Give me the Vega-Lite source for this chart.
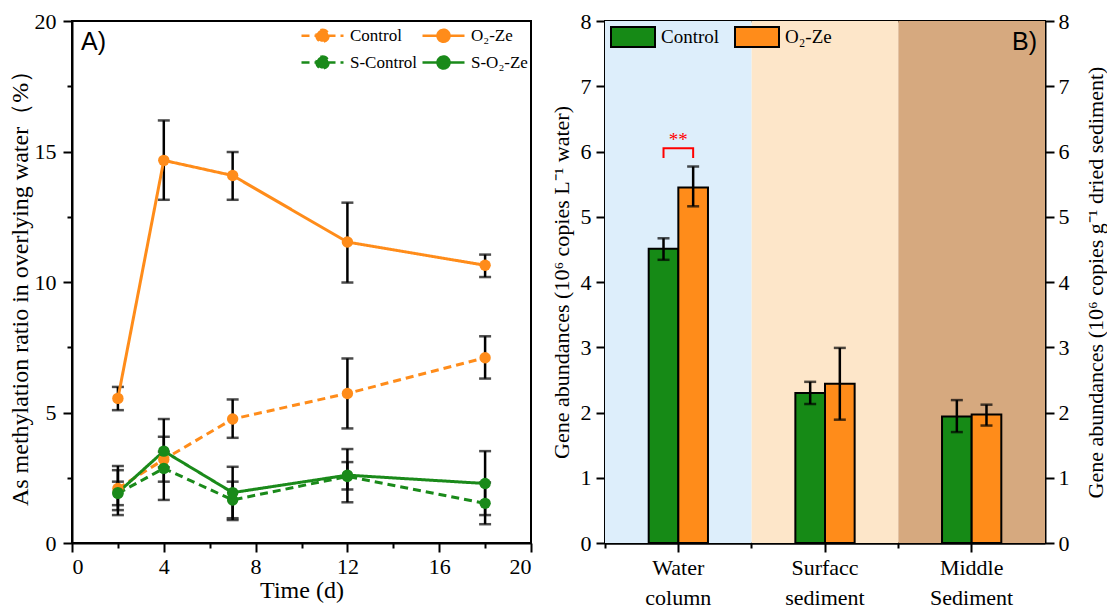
{
  "$schema": "https://vega.github.io/schema/vega-lite/v6.json",
  "background": "white",
  "padding": {"left": 7, "top": 9, "right": 0, "bottom": 0},
  "spacing": 16,
  "config": {
    "view": {"stroke": "black", "strokeWidth": 2},
    "font": "Liberation Serif",
    "axis": {"labelFont": "Liberation Serif", "labelFontSize": 22, "labelColor": "black", "titleFont": "Liberation Serif", "titleFontSize": 24, "titleFontWeight": "normal", "titleColor": "black", "domainColor": "black", "domainWidth": 2, "tickColor": "black", "tickWidth": 2, "grid": false, "zindex": 1},
    "legend": {"labelFont": "Liberation Serif", "labelFontSize": 17, "labelColor": "black", "padding": 0},
    "title": {"font": "Liberation Sans", "fontSize": 25, "fontWeight": "normal", "color": "black"}
  },
  "resolve": {"scale": {"color": "independent", "strokeDash": "independent", "fill": "independent"}},
  "hconcat": [
    {
      "width": 459,
      "height": 522,
      "title": {"text": "A)", "anchor": "start", "frame": "group", "offset": -45, "dx": 9},
      "data": {"values": [
        {"t": 2, "s": "Control", "v": 2.09, "lo": 1.26, "hi": 2.95},
        {"t": 4, "s": "Control", "v": 3.2, "lo": 2.9, "hi": 3.5},
        {"t": 7, "s": "Control", "v": 4.75, "lo": 4.03, "hi": 5.5},
        {"t": 12, "s": "Control", "v": 5.73, "lo": 4.39, "hi": 7.07},
        {"t": 18, "s": "Control", "v": 7.1, "lo": 6.3, "hi": 7.92},
        {"t": 2, "s": "O₂-Ze", "v": 5.54, "lo": 5.09, "hi": 5.98},
        {"t": 4, "s": "O₂-Ze", "v": 14.66, "lo": 13.15, "hi": 16.19},
        {"t": 7, "s": "O₂-Ze", "v": 14.08, "lo": 13.15, "hi": 14.98},
        {"t": 12, "s": "O₂-Ze", "v": 11.53, "lo": 9.98, "hi": 13.04},
        {"t": 18, "s": "O₂-Ze", "v": 10.64, "lo": 10.19, "hi": 11.05},
        {"t": 2, "s": "S-Control", "v": 1.9, "lo": 1.45, "hi": 2.35},
        {"t": 4, "s": "S-Control", "v": 2.86, "lo": 1.65, "hi": 4.07},
        {"t": 7, "s": "S-Control", "v": 1.65, "lo": 0.95, "hi": 2.35},
        {"t": 12, "s": "S-Control", "v": 2.55, "lo": 2.05, "hi": 3.1},
        {"t": 18, "s": "S-Control", "v": 1.52, "lo": 0.72, "hi": 2.32},
        {"t": 2, "s": "S-O₂-Ze", "v": 1.93, "lo": 1.07, "hi": 2.79},
        {"t": 4, "s": "S-O₂-Ze", "v": 3.52, "lo": 2.35, "hi": 4.75},
        {"t": 7, "s": "S-O₂-Ze", "v": 1.93, "lo": 0.88, "hi": 2.92},
        {"t": 12, "s": "S-O₂-Ze", "v": 2.6, "lo": 1.56, "hi": 3.6},
        {"t": 18, "s": "S-O₂-Ze", "v": 2.28, "lo": 1.07, "hi": 3.52}
      ]},
      "layer": [
        {
          "mark": {"type": "rule", "color": "black", "strokeWidth": 2.5},
          "encoding": {
            "x": {"field": "t", "type": "quantitative", "scale": {"domain": [0, 20]},
              "axis": {"title": "Time (d)", "format": "d", "values": [0, 2, 4, 6, 8, 10, 12, 14, 16, 18, 20], "labelExpr": "datum.value % 4 === 0 ? datum.label : ''", "tickSize": {"condition": {"test": "datum.value % 4 === 0", "value": 9}, "value": 5}, "labelPadding": 4, "titlePadding": 1}},
            "y": {"field": "lo", "type": "quantitative", "scale": {"domain": [0, 20]},
              "axis": {"title": "As methylation ratio in overlying water（%）", "format": "d", "values": [0, 2.5, 5, 7.5, 10, 12.5, 15, 17.5, 20], "labelExpr": "datum.value % 5 === 0 ? datum.label : ''", "tickSize": {"condition": {"test": "datum.value % 5 === 0", "value": 9}, "value": 5}, "labelPadding": 7, "titlePadding": 2}},
            "y2": {"field": "hi"}
          }
        },
        {
          "mark": {"type": "tick", "orient": "horizontal", "color": "black", "thickness": 2.5, "size": 12},
          "encoding": {
            "x": {"field": "t", "type": "quantitative"},
            "y": {"field": "lo", "type": "quantitative"}
          }
        },
        {
          "mark": {"type": "tick", "orient": "horizontal", "color": "black", "thickness": 2.5, "size": 12},
          "encoding": {
            "x": {"field": "t", "type": "quantitative"},
            "y": {"field": "hi", "type": "quantitative"}
          }
        },
        {
          "mark": {"type": "line", "strokeWidth": 3},
          "encoding": {
            "x": {"field": "t", "type": "quantitative"},
            "y": {"field": "v", "type": "quantitative"},
            "color": {"field": "s", "type": "nominal",
              "scale": {"domain": ["Control", "S-Control", "O₂-Ze", "S-O₂-Ze"], "range": ["#ff8c1a", "#1a8a1a", "#ff8c1a", "#1a8a1a"]},
              "legend": {"title": null, "orient": "top-right", "columns": 2, "offset": 3, "columnPadding": -1, "rowPadding": 4,
                "symbolType": "M-2.1,0H2.1M0.6,0A0.6,0.6,0,1,1,-0.6,0A0.6,0.6,0,1,1,0.6,0", "symbolSize": 400, "symbolStrokeWidth": 2.5, "labelOffset": 16,
                "encode": {"symbols": {"update": {
                  "fill": {"signal": "indexof(datum.value, 'S-') === 0 ? '#1a8a1a' : '#ff8c1a'"},
                  "stroke": {"signal": "indexof(datum.value, 'S-') === 0 ? '#1a8a1a' : '#ff8c1a'"},
                  "strokeDash": {"signal": "indexof(datum.value, 'Ze') > 0 ? [1, 0] : [8, 5]"},
                  "strokeWidth": {"value": 2.5},
                  "opacity": {"value": 1}
                }}}}},
            "strokeDash": {"field": "s", "type": "nominal",
              "scale": {"domain": ["Control", "S-Control", "O₂-Ze", "S-O₂-Ze"], "range": [[8, 5], [8, 5], [1, 0], [1, 0]]},
              "legend": null}
          }
        },
        {
          "mark": {"type": "point", "filled": true, "size": 130, "opacity": 1},
          "encoding": {
            "x": {"field": "t", "type": "quantitative"},
            "y": {"field": "v", "type": "quantitative"},
            "color": {"field": "s", "type": "nominal", "legend": null}
          }
        }
      ]
    },
    {
      "width": 440,
      "height": 522,
      "title": {"text": "B)", "anchor": "end", "frame": "group", "offset": -45, "dx": -8},
      "layer": [
        {
          "data": {"values": [{"site": "Water column"}, {"site": "Surfacc sediment"}, {"site": "Middle Sediment"}]},
          "mark": {"type": "rect"},
          "encoding": {
            "x": {"field": "site", "type": "nominal", "sort": null,
              "scale": {"domain": ["Water column", "Surfacc sediment", "Middle Sediment"], "paddingInner": 0, "paddingOuter": 0},
              "axis": {"orient": "bottom", "bandPosition": 0, "labels": false, "tickSize": 5, "title": null}},
            "fill": {"field": "site", "type": "nominal",
              "scale": {"domain": ["Water column", "Surfacc sediment", "Middle Sediment"], "range": ["#ddeefb", "#fde6c9", "#d6a97f"]},
              "legend": null}
          }
        },
        {
          "data": {"values": [
            {"site": "Water column", "grp": "Control", "v": 4.51, "lo": 4.34, "hi": 4.67},
            {"site": "Water column", "grp": "O₂-Ze", "v": 5.45, "lo": 5.16, "hi": 5.77},
            {"site": "Surfacc sediment", "grp": "Control", "v": 2.3, "lo": 2.13, "hi": 2.47},
            {"site": "Surfacc sediment", "grp": "O₂-Ze", "v": 2.44, "lo": 1.89, "hi": 2.99},
            {"site": "Middle Sediment", "grp": "Control", "v": 1.94, "lo": 1.7, "hi": 2.19},
            {"site": "Middle Sediment", "grp": "O₂-Ze", "v": 1.97, "lo": 1.8, "hi": 2.12}
          ]},
          "layer": [
            {
              "mark": {"type": "bar", "stroke": "black", "strokeWidth": 2},
              "encoding": {
                "x": {"field": "site", "type": "nominal", "sort": null,
                  "scale": {"domain": ["Water column", "Surfacc sediment", "Middle Sediment"], "paddingInner": 0, "paddingOuter": 0},
                  "axis": {"orient": "bottom", "labelExpr": "split(datum.label, ' ')", "labelAngle": 0, "tickSize": 9, "labelPadding": 5, "labelLineHeight": 30, "labelBaseline": "top", "title": null}},
                "xOffset": {"field": "grp", "type": "nominal", "scale": {"domain": ["pad1", "Control", "O₂-Ze", "pad2"], "paddingInner": 0, "paddingOuter": 0.474}},
                "y": {"field": "v", "type": "quantitative", "scale": {"domain": [0, 8]},
                  "axis": {"orient": "left", "title": "Gene abundances (10⁶ copies L⁻¹ water)", "titleFontSize": 22, "format": "d", "values": [0, 0.5, 1, 1.5, 2, 2.5, 3, 3.5, 4, 4.5, 5, 5.5, 6, 6.5, 7, 7.5, 8], "labelExpr": "datum.value % 1 === 0 ? datum.label : ''", "tickSize": {"condition": {"test": "datum.value % 1 === 0", "value": 9}, "value": 5}, "labelPadding": 5, "titlePadding": 7}},
                "color": {"field": "grp", "type": "nominal",
                  "scale": {"domain": ["Control", "O₂-Ze"], "range": ["#168a16", "#ff8c1a"]},
                  "legend": {"title": null, "orient": "top-left", "direction": "horizontal", "offset": 5, "symbolType": "M-1,-1H3.4V1H-1Z", "symbolSize": 400, "symbolStrokeColor": "black", "symbolStrokeWidth": 2, "labelFontSize": 19, "labelOffset": 29, "columnPadding": 11, "symbolOpacity": 1}}
              }
            },
            {
              "mark": {"type": "rule", "color": "black", "strokeWidth": 2.5},
              "encoding": {
                "x": {"field": "site", "type": "nominal", "sort": null,
                  "scale": {"domain": ["Water column", "Surfacc sediment", "Middle Sediment"], "paddingInner": 0, "paddingOuter": 0},
                  "axis": {"orient": "top", "labels": false, "ticks": false, "domain": true, "title": null}},
                "xOffset": {"field": "grp", "type": "nominal", "scale": {"domain": ["pad1", "Control", "O₂-Ze", "pad2"], "paddingInner": 0, "paddingOuter": 0.474}},
                "y": {"field": "lo", "type": "quantitative", "scale": {"domain": [0, 8]},
                  "axis": {"orient": "right", "title": "Gene abundances (10⁶ copies g⁻¹ dried sediment)", "titleFontSize": 22, "titleAngle": 270, "titleBaseline": "top", "format": "d", "values": [0, 0.5, 1, 1.5, 2, 2.5, 3, 3.5, 4, 4.5, 5, 5.5, 6, 6.5, 7, 7.5, 8], "labelExpr": "datum.value % 1 === 0 ? datum.label : ''", "tickSize": {"condition": {"test": "datum.value % 1 === 0", "value": 9}, "value": 5}, "labelPadding": 4, "titlePadding": 16}},
                "y2": {"field": "hi"}
              }
            },
            {
              "mark": {"type": "tick", "orient": "horizontal", "color": "black", "thickness": 2.5, "size": 12},
              "encoding": {
                "x": {"field": "site", "type": "nominal", "sort": null, "axis": null},
                "xOffset": {"field": "grp", "type": "nominal"},
                "y": {"field": "lo", "type": "quantitative", "scale": {"domain": [0, 8]}, "axis": null}
              }
            },
            {
              "mark": {"type": "tick", "orient": "horizontal", "color": "black", "thickness": 2.5, "size": 12},
              "encoding": {
                "x": {"field": "site", "type": "nominal", "sort": null, "axis": null},
                "xOffset": {"field": "grp", "type": "nominal"},
                "y": {"field": "hi", "type": "quantitative", "scale": {"domain": [0, 8]}, "axis": null}
              }
            }
          ]
        },
        {
          "data": {"values": [
            {"site": "Water column", "grp": "Control", "v": 5.9, "o": 1},
            {"site": "Water column", "grp": "Control", "v": 6.05, "o": 2},
            {"site": "Water column", "grp": "O₂-Ze", "v": 6.05, "o": 3},
            {"site": "Water column", "grp": "O₂-Ze", "v": 5.9, "o": 4}
          ]},
          "mark": {"type": "line", "color": "#ff0000", "strokeWidth": 2},
          "encoding": {
            "x": {"field": "site", "type": "nominal", "sort": null, "axis": null},
            "xOffset": {"field": "grp", "type": "nominal"},
            "y": {"field": "v", "type": "quantitative", "scale": {"domain": [0, 8]}, "axis": null},
            "order": {"field": "o", "type": "quantitative"}
          }
        },
        {
          "data": {"values": [{"site": "Water column", "v": 6.08, "label": "**"}]},
          "mark": {"type": "text", "color": "#ff0000", "fontSize": 19, "font": "Liberation Serif", "baseline": "alphabetic"},
          "encoding": {
            "x": {"field": "site", "type": "nominal", "sort": null, "axis": null},
            "y": {"field": "v", "type": "quantitative", "scale": {"domain": [0, 8]}, "axis": null},
            "text": {"field": "label"}
          }
        }
      ],
      "resolve": {"axis": {"x": "independent", "y": "independent"}}
    }
  ]
}
